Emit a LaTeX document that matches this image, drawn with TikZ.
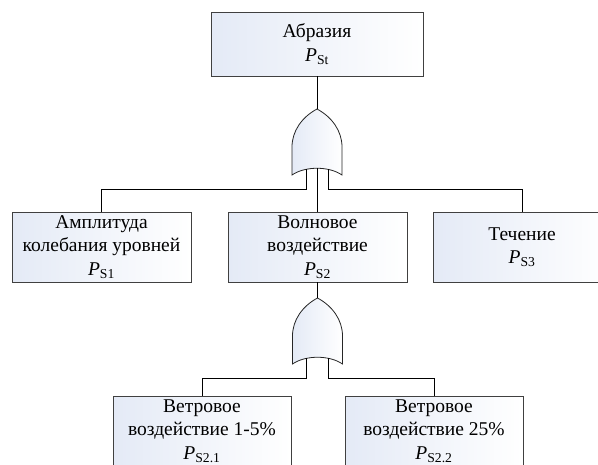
\documentclass[tikz,border=0pt]{standalone}
\usepackage{fontspec}
\setmainfont{Liberation Serif}

\definecolor{boxtint}{RGB}{228,234,246}

\newcommand{\orgate}[3]{%
	\begin{scope}[shift={(#2,#3)}]
		\draw[gatebody] (0,0) .. controls (-15,8) and (-25,22) .. (-25,38) -- (-25,66)
			.. controls (-12,57) and (12,57) .. (25,66) -- (25,38)
			.. controls (25,22) and (15,8) .. (0,0) -- cycle;
		\coordinate (#1-tip) at (0,0);
		\coordinate (#1-l) at (-11,60.3);
		\coordinate (#1-m) at (0,59.3);
		\coordinate (#1-r) at (11,60.3);
	\end{scope}}

\begin{document}
\begin{tikzpicture}[x=1pt,y=-1pt,
		event/.style={draw=black!75, line width=0.8pt, left color=boxtint, right color=white,
			align=center, inner sep=0pt, minimum width=179, minimum height=70,
			font=\fontsize{19.5}{23.5}\selectfont},
		gatebody/.style={draw=black!85, line width=0.8pt, left color=boxtint, right color=white},
		wire/.style={line width=0.8pt}]
						\clip (0,0) rectangle (598,464);
						\node[event, minimum width=212, minimum height=64] (abr) at (317,44) {Абразия\\\textit{P}\textsubscript{St}};
						\node[event] (s1) at (101.5,247) {Амплитуда\\колебания уровней\\\textit{P}\textsubscript{S1}};
						\node[event] (s2) at (317.5,247) {Волновое\\воздействие\\\textit{P}\textsubscript{S2}};
						\node[event, minimum width=178] (s3) at (522,247) {Течение\\\textit{P}\textsubscript{S3}};
						\node[event, minimum width=178] (s21) at (202,431) {Ветровое\\воздействие 1-5\%\\\textit{P}\textsubscript{S2.1}};
						\node[event, minimum width=178] (s22) at (434,431) {Ветровое\\воздействие 25\%\\\textit{P}\textsubscript{S2.2}};
						\orgate{g1}{317}{109}
						\orgate{g2}{317.5}{298}
						\coordinate (bus1) at (0,189);
						\coordinate (bus2) at (0,378);
						\draw[wire] (abr.south) -- (g1-tip);
						\draw[wire] (g1-l) -- (g1-l |- bus1) -| (s1.north);
						\draw[wire] (g1-m) -- (g1-m |- s2.north);
						\draw[wire] (g1-r) -- (g1-r |- bus1) -| (s3.north);
						\draw[wire] (s2.south) -- (g2-tip);
						\draw[wire] (g2-l) -- (g2-l |- bus2) -| (s21.north);
						\draw[wire] (g2-r) -- (g2-r |- bus2) -| (s22.north);
					\end{tikzpicture}
\end{document}
